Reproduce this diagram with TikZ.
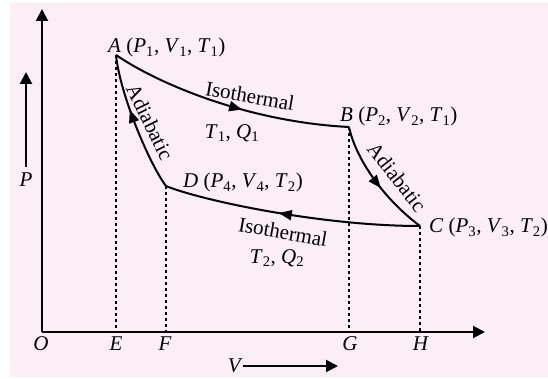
\documentclass[tikz,border=0pt]{standalone}
\usepackage{fontspec}
\setmainfont{Liberation Serif}
\usetikzlibrary{arrows.meta,decorations.markings}
\definecolor{bgpink}{RGB}{251,238,245}
\newcommand{\sv}[2]{\textit{#1}\textsubscript{#2}}
\begin{document}
\begin{tikzpicture}[x=1pt,y=-1pt,
  font=\fontsize{21}{25}\selectfont,
  curve/.style={line width=2pt},
  axisline/.style={line width=2pt,-{Triangle[length=12pt,width=12pt]}},
  dotline/.style={line width=1.7pt,dash pattern=on 3pt off 3pt},
  midarrow/.style={postaction={decorate},decoration={markings,
     mark=at position #1 with {\arrow{Triangle[length=13pt,width=10pt]}}}},
  lbl/.style={inner sep=0pt,anchor=base west},
  axl/.style={inner sep=0pt,anchor=base}]
\useasboundingbox (0,0) rectangle (548,379);
\fill[bgpink] (10,3) rectangle (548,377);
% points
\coordinate (O) at (42,332);
\coordinate (Xend) at (485,332);
\coordinate (Yend) at (42,9);
\coordinate (A) at (116,55);
\coordinate (B) at (349,127);
\coordinate (C) at (420,226);
\coordinate (D) at (166,186);
\coordinate (E) at (116,332);
\coordinate (F) at (166,332);
\coordinate (G) at (349,332);
\coordinate (H) at (420,332);
% axes
\draw[axisline] (O) -- (Xend);
\draw[axisline] (O) -- (Yend);
% dotted drops
\draw[dotline] (A) -- (E);
\draw[dotline] (D) -- (F);
\draw[dotline] (B) -- (G);
\draw[dotline] (C) -- (H);
% cycle
\draw[curve,midarrow=0.56] (A) .. controls (160,85) and (250,122) .. (B);
\draw[curve,midarrow=0.56] (B) .. controls (356,160) and (385,200) .. (C);
\draw[curve,midarrow=0.55] (C) .. controls (320,226) and (200,200) .. (D);
\draw[curve,midarrow=0.6] (D) .. controls (150,165) and (120,95) .. (A);
% point labels
\node[lbl] (labA) at (108,53) {\textit{A} (\sv{P}{1}, \sv{V}{1}, \sv{T}{1})};
\node[lbl] (labB) at (340,122) {\textit{B} (\sv{P}{2}, \sv{V}{2}, \sv{T}{1})};
\node[lbl] (labC) at (429,233) {\textit{C} (\sv{P}{3}, \sv{V}{3}, \sv{T}{2})};
\node[lbl] (labD) at (183,188) {\textit{D} (\sv{P}{4}, \sv{V}{4}, \sv{T}{2})};
% process labels
\node[rotate=-10] (isoTop) at (250,96) {Isothermal};
\node (tq1) at (232,133) {\sv{T}{1}, \sv{Q}{1}};
\node[rotate=-10] (isoBot) at (283,232) {Isothermal};
\node (tq2) at (277,258) {\sv{T}{2}, \sv{Q}{2}};
\node[rotate=-64] (adL) at (150,122) {Adiabatic};
\node[rotate=-52] (adR) at (397,177) {Adiabatic};
% axis labels
\node[axl] (labO) at (41,350) {\textit{O}};
\node[axl] (labE) at (116,350) {\textit{E}};
\node[axl] (labF) at (165,350) {\textit{F}};
\node[axl] (labG) at (350,350) {\textit{G}};
\node[axl] (labH) at (421,350) {\textit{H}};
% P and V arrows
\node[axl] (labP) at (26,187) {\textit{P}};
\coordinate (Ptail) at (26,167);
\coordinate (Ptip) at (26,72);
\draw[axisline] (Ptail) -- (Ptip);
\node[axl,anchor=base east] (labV) at (243,372) {\textit{V}};
\coordinate (Vtip) at (338,366);
\draw[axisline] (labV.east |- Vtip) -- (Vtip);
\end{tikzpicture}
\end{document}
